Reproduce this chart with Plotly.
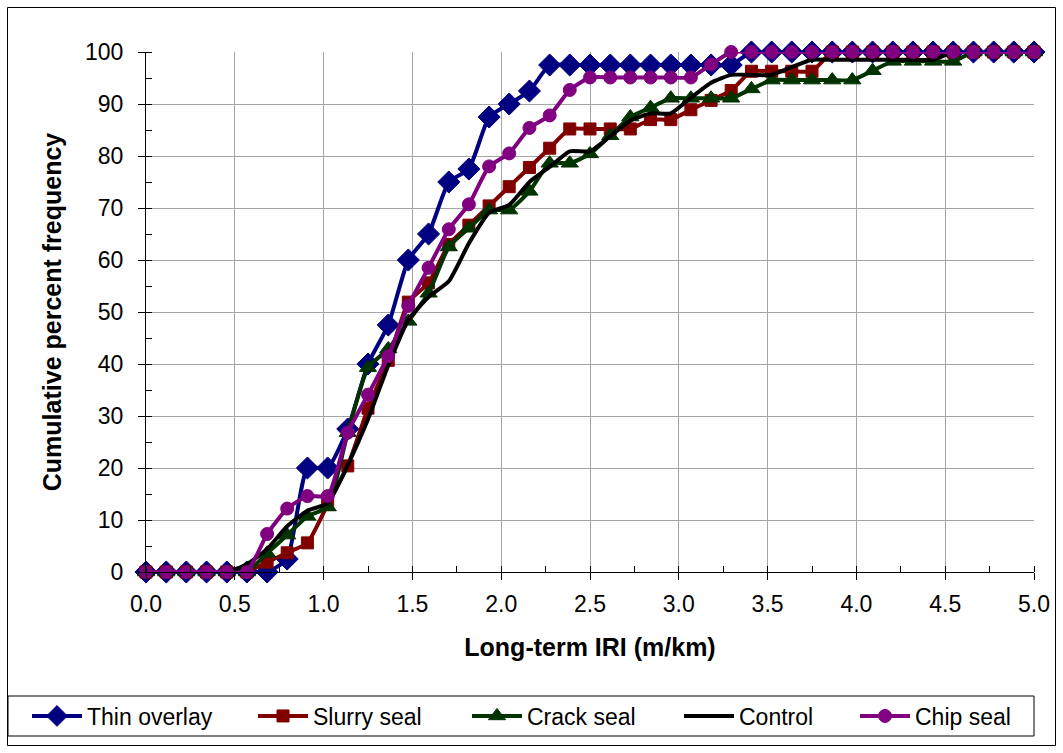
import plotly.graph_objects as go

# Long-term IRI bins (m/km)
iri = [0.000, 0.114, 0.227, 0.341, 0.455, 0.568, 0.682, 0.795, 0.909, 1.023,
       1.136, 1.250, 1.364, 1.477, 1.591, 1.705, 1.818, 1.932, 2.045, 2.159,
       2.273, 2.386, 2.500, 2.614, 2.727, 2.841, 2.955, 3.068, 3.182, 3.295,
       3.409, 3.523, 3.636, 3.750, 3.864, 3.977, 4.091, 4.205, 4.318, 4.432,
       4.545, 4.659, 4.773, 4.886, 5.000]

# Cumulative percent frequency per treatment
thin_overlay = [0, 0, 0, 0, 0, 0, 0, 2.5, 20.0, 20.0,
                27.5, 40.0, 47.5, 60.0, 65.0, 75.0, 77.5, 87.5, 90.0, 92.5,
                97.5, 97.5, 97.5, 97.5, 97.5, 97.5, 97.5, 97.5, 97.5, 97.5,
                100, 100, 100, 100, 100, 100, 100, 100, 100, 100,
                100, 100, 100, 100, 100]
slurry_seal = [0, 0, 0, 0, 0, 0, 1.9, 3.7, 5.6, 13.0,
               20.4, 31.5, 40.7, 51.9, 55.6, 63.0, 66.7, 70.4, 74.1, 77.8,
               81.5, 85.2, 85.2, 85.2, 85.2, 87.0, 87.0, 88.9, 90.7, 92.6,
               96.3, 96.3, 96.3, 96.3, 100, 100, 100, 100, 100, 100,
               100, 100, 100, 100, 100]
crack_seal = [0, 0, 0, 0, 0, 0, 3.6, 7.1, 10.7, 12.5,
              26.8, 39.3, 42.9, 48.2, 53.6, 62.5, 66.1, 69.6, 69.6, 73.2,
              78.6, 78.6, 80.4, 83.9, 87.5, 89.3, 91.1, 91.1, 91.1, 91.1,
              92.9, 94.6, 94.6, 94.6, 94.6, 94.6, 96.4, 98.2, 98.2, 98.2,
              98.2, 100, 100, 100, 100]
control = [0, 0, 0, 0, 0, 1.5, 4.4, 8.8, 11.8, 13.2,
           20.6, 29.4, 39.7, 48.5, 52.9, 55.9, 63.2, 69.1, 70.6, 75.0,
           77.9, 80.9, 80.9, 83.8, 86.8, 88.2, 88.2, 91.2, 94.1, 95.6,
           95.6, 95.6, 97.1, 98.5, 98.5, 98.5, 98.5, 98.5, 98.5, 98.5,
           100, 100, 100, 100, 100]
chip_seal = [0, 0, 0, 0, 0, 0, 7.3, 12.2, 14.6, 14.6,
             26.8, 34.1, 41.5, 51.2, 58.5, 65.9, 70.7, 78.0, 80.5, 85.4,
             87.8, 92.7, 95.1, 95.1, 95.1, 95.1, 95.1, 95.1, 97.6, 100,
             100, 100, 100, 100, 100, 100, 100, 100, 100, 100,
             100, 100, 100, 100, 100]

FONT = "Liberation Sans, Arial, sans-serif"

# Plot-area pixel geometry used for placing frame/legend in paper units
L, R, T, B = 146, 1034, 52, 572
W, H = R - L, B - T


def px(xp):
    return (xp - L) / W


def py(yp):
    return (B - yp) / H


series = [
    ("Thin overlay", thin_overlay, "#000080", "diamond", 17),
    ("Slurry seal", slurry_seal, "#800000", "square", 12),
    ("Crack seal", crack_seal, "#003300", "triangle-up", 15),
    ("Control", control, "#000000", None, 0),
    ("Chip seal", chip_seal, "#800080", "circle", 13),
]

legend_text_x = [87, 313, 527, 739, 915]
ITEM_W = 50

fig = go.Figure()
for k, (name, ys, color, sym, size) in enumerate(series):
    lg = "legend" if k == 0 else f"legend{k + 1}"
    kw = dict(
        x=iri, y=ys, name=name, legend=lg,
        line=dict(color=color, width=4, shape="spline", smoothing=0.5),
        cliponaxis=False,
    )
    if sym:
        kw["mode"] = "lines+markers"
        kw["marker"] = dict(symbol=sym, size=size, color=color,
                            line=dict(color=color, width=1))
    else:
        kw["mode"] = "lines"
    fig.add_trace(go.Scatter(**kw))

legends = {}
for k, tx in enumerate(legend_text_x):
    key = "legend" if k == 0 else f"legend{k + 1}"
    legends[key] = dict(
        x=px(tx - 40 - (ITEM_W - 30)), y=py(716), xanchor="left", yanchor="middle",
        orientation="h", bgcolor="rgba(0,0,0,0)", borderwidth=0,
        font=dict(family=FONT, size=23, color="black"),
        itemwidth=ITEM_W,
    )

fig.update_layout(
    width=1063, height=753,
    margin=dict(l=L, r=1063 - R, t=T, b=753 - B),
    paper_bgcolor="white", plot_bgcolor="white",
    showlegend=True,
    font=dict(family=FONT, size=23, color="black"),
    **legends,
    xaxis=dict(
        range=[0, 5], tick0=0, dtick=0.5, tickformat=".1f",
        showgrid=True, gridcolor="#a6a6a6", gridwidth=1,
        showline=True, linecolor="black", linewidth=1,
        ticks="outside", ticklen=7, tickcolor="black",
        minor=dict(dtick=0.25, ticks="inside", ticklen=6, tickcolor="black", showgrid=False),
        zeroline=False, ticklabelstandoff=4,
        tickfont=dict(family=FONT, size=23, color="black"),
        title=dict(text="Long-term IRI (m/km)", standoff=22,
                   font=dict(family=FONT, size=25, color="black", weight="bold")),
    ),
    yaxis=dict(
        range=[0, 100], tick0=0, dtick=10,
        showgrid=True, gridcolor="#a6a6a6", gridwidth=1,
        showline=True, linecolor="black", linewidth=1,
        ticks="outside", ticklen=7, tickcolor="black",
        minor=dict(dtick=5, ticks="inside", ticklen=6, tickcolor="black", showgrid=False),
        zeroline=False, ticklabelstandoff=10,
        tickfont=dict(family=FONT, size=23, color="black"),
        title=dict(text="Cumulative percent frequency", standoff=16,
                   font=dict(family=FONT, size=25, color="black", weight="bold")),
    ),
    shapes=[
        # outer chart frame
        dict(type="rect", xref="paper", yref="paper",
             x0=px(7.5), x1=px(1055.5), y0=py(745.5), y1=py(7.5),
             line=dict(color="black", width=1), fillcolor="rgba(0,0,0,0)"),
        # legend box
        dict(type="rect", xref="paper", yref="paper",
             x0=px(8), x1=px(1034), y0=py(736), y1=py(696),
             line=dict(color="black", width=1), fillcolor="rgba(0,0,0,0)"),
    ],
)

fig.write_html("out.html")
